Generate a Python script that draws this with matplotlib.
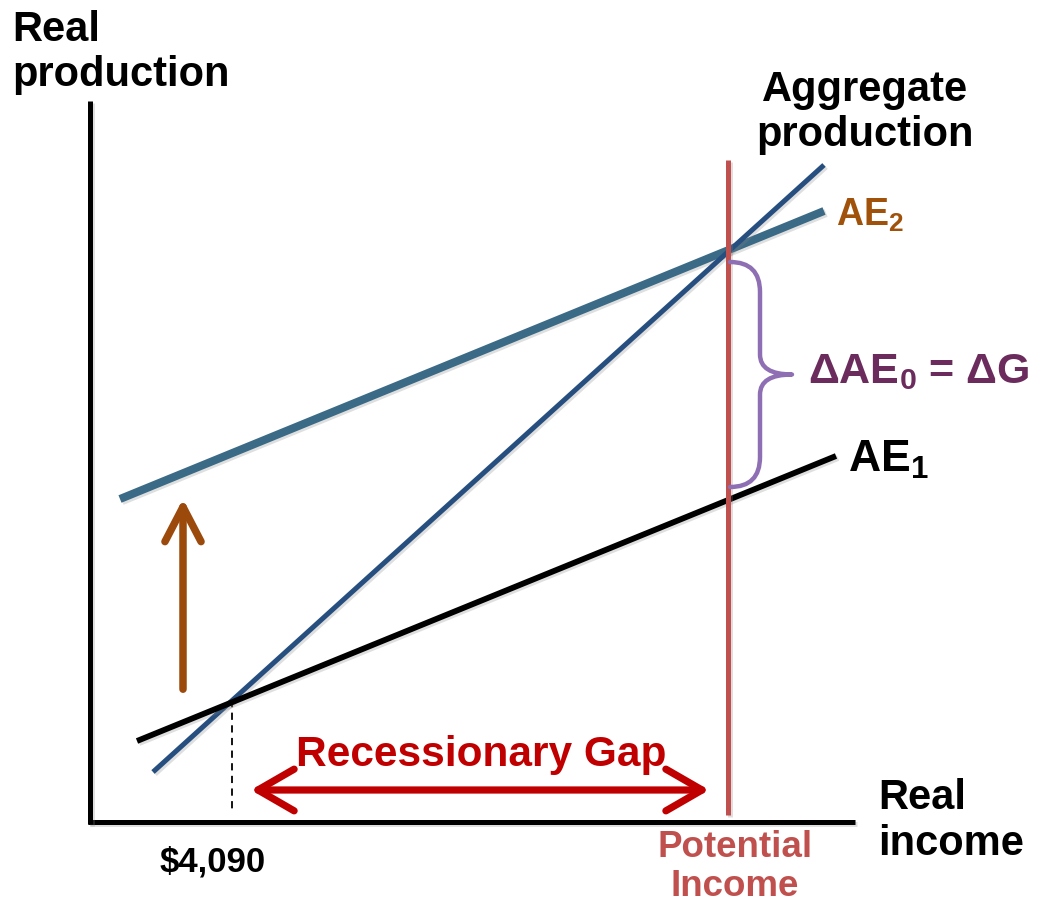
import matplotlib
matplotlib.use("Agg")
import matplotlib.pyplot as plt
import matplotlib.patheffects as pe
from matplotlib.patches import FancyArrowPatch, PathPatch
from matplotlib.path import Path

plt.rcParams["font.family"] = ["Liberation Sans", "DejaVu Sans"]
plt.rcParams["mathtext.fontset"] = "custom"
plt.rcParams["mathtext.rm"] = "Liberation Sans:bold"
plt.rcParams["mathtext.bf"] = "Liberation Sans:bold"
plt.rcParams["mathtext.it"] = "Liberation Sans:bold"

# model units: income on x, production on y (origin at the axis corner)
agg_x = [63, 734]          # aggregate production (45-degree line)
agg_y = [50, 657]
ae1_x = [47, 746]          # AE1, original expenditure
ae1_y = [81, 366]
ae2_x = [30, 734]          # AE2, after the rise in G
ae2_y = [323, 611]
potential_x = 638          # potential income
potential_y = [7, 662]
eq_x, eq_y = 142, 122      # initial equilibrium ($4,090)
gap_x = [158, 622]         # recessionary gap arrow
gap_y = 32
shift_x = 93               # upward shift arrow
shift_y = [130, 326]
brace_y = [335, 560]

AX_COL = "black"
AGG_COL = "#264f80"
AE2_COL = "#3b6a86"
POT_COL = "#c0504d"
GAP_COL = "#c00000"
SHIFT_COL = "#9b4a0c"
BRACE_COL = "#8e6fb3"
DELTA_COL = "#6b2c5d"

shadow = [pe.SimpleLineShadow(offset=(1.5, -1.5), shadow_color="gray", alpha=0.25),
          pe.Normal()]

fig = plt.figure(figsize=(10.49, 9.08), dpi=100)
ax = fig.add_axes([0, 0, 1, 1])
ax.set_xlim(-90, 959)
ax.set_ylim(-86, 822)
ax.axis("off")

# axes
ax.plot([-2, 765], [0, 0], color=AX_COL, lw=3.6, solid_capstyle="butt", path_effects=shadow)
ax.plot([0, 0], [-2, 721], color=AX_COL, lw=3.6, solid_capstyle="butt", path_effects=shadow)

# curves
ax.plot(ae2_x, ae2_y, color=AE2_COL, lw=5.8, solid_capstyle="butt", path_effects=shadow, zorder=3)
ax.plot(agg_x, agg_y, color=AGG_COL, lw=3.6, solid_capstyle="butt", path_effects=shadow, zorder=4)
ax.plot(ae1_x, ae1_y, color="black", lw=4.2, solid_capstyle="butt", path_effects=shadow, zorder=4)
ax.plot([potential_x, potential_x], potential_y, color=POT_COL, lw=3.6,
        solid_capstyle="butt", path_effects=shadow, zorder=5)

# equilibrium drop line
ax.plot([eq_x, eq_x], [eq_y, 10], color="black", lw=1.3, ls=(0, (4, 3)), zorder=2)

# recessionary gap
gap = FancyArrowPatch((gap_x[0], gap_y), (gap_x[1], gap_y),
                      arrowstyle="<->,head_length=1.3,head_width=0.75",
                      mutation_scale=20, color=GAP_COL, lw=5.2,
                      capstyle="round", joinstyle="round", zorder=5)
ax.add_patch(gap)
ax.text(391, 67, "Recessionary Gap", color=GAP_COL, fontsize=30.5, fontweight="bold",
        ha="center", va="center")

# upward shift arrow
shift = FancyArrowPatch((shift_x, shift_y[0]), (shift_x, shift_y[1]),
                        arrowstyle="->,head_length=1.25,head_width=0.65",
                        mutation_scale=20, color=SHIFT_COL, lw=5.4,
                        capstyle="round", joinstyle="round", zorder=5)
ax.add_patch(shift)

# curly brace between AE1 and AE2 at potential income
x0, xm, xt = 640, 670, 702
lo, hi = brace_y
mid = (lo + hi) / 2
r = 30
verts = [(x0, hi), (xm, hi), (xm, hi - r),
         (xm, mid + 20), (xm, mid), (xt, mid),
         (xm, mid), (xm, mid - 20),
         (xm, lo + r), (xm, lo), (x0, lo)]
codes = [Path.MOVETO, Path.CURVE3, Path.CURVE3,
         Path.LINETO, Path.CURVE3, Path.CURVE3,
         Path.CURVE3, Path.CURVE3,
         Path.LINETO, Path.CURVE3, Path.CURVE3]
ax.add_patch(PathPatch(Path(verts, codes), facecolor="none", edgecolor=BRACE_COL,
                       lw=3.2, capstyle="round", joinstyle="round", zorder=6))

# labels
ax.text(-78, 812, "Real\nproduction", fontsize=30, fontweight="bold",
        ha="left", va="top", linespacing=1.15)
ax.text(775, 752, "Aggregate\nproduction", fontsize=30, fontweight="bold",
        ha="center", va="top", linespacing=1.15)
ax.text(788, 44, "Real\nincome", fontsize=30, fontweight="bold",
        ha="left", va="top", linespacing=1.2)
ax.text(645, -8, "Potential\nIncome", fontsize=26.5, fontweight="bold", color=POT_COL,
        ha="center", va="top", linespacing=1.15)
ax.text(123, -40, r"\$4,090", fontsize=25, fontweight="bold",
        ha="center", va="center")
ax.text(746, 607, r"AE$_\mathbf{2}$", fontsize=27, fontweight="bold", color="#a0520a",
        ha="left", va="center")
ax.text(758, 362, r"AE$_\mathbf{1}$", fontsize=32, fontweight="bold", color="black",
        ha="left", va="center")
ax.text(718, 450, r"ΔAE$_\mathbf{0}$ = ΔG", fontsize=31, fontweight="bold", color=DELTA_COL,
        ha="left", va="center")

fig.savefig("out.png", dpi=100)
